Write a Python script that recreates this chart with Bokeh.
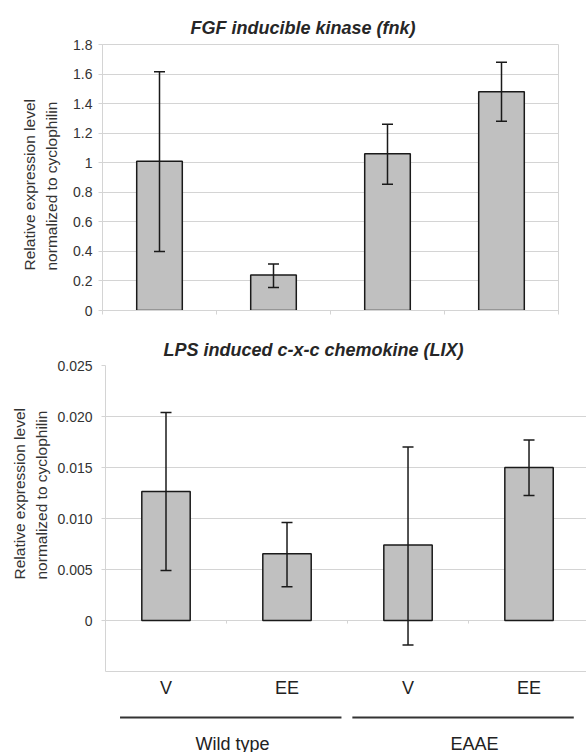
from bokeh.plotting import figure
from bokeh.models import (ColumnDataSource, Whisker, TeeHead, Range1d, FixedTicker,
                          CustomJSTickFormatter, Title)
from bokeh.layouts import column
from bokeh.embed import file_html
from bokeh.resources import INLINE
from bokeh.core.properties import value

# ---------------- data ----------------
conditions = ["V", "EE", "V", "EE"]
groups = ["Wild type", "EAAE"]

fnk_mean = [1.01, 0.24, 1.06, 1.48]
fnk_lower = [0.40, 0.155, 0.855, 1.28]
fnk_upper = [1.615, 0.315, 1.26, 1.68]

lix_mean = [0.01265, 0.00655, 0.0074, 0.0150]
lix_lower = [0.0049, 0.0033, -0.0024, 0.01225]
lix_upper = [0.0204, 0.0096, 0.0170, 0.0177]

fnk_ticks = [0, 0.2, 0.4, 0.6, 0.8, 1.0, 1.2, 1.4, 1.6, 1.8]
lix_ticks = [0, 0.005, 0.010, 0.015, 0.020, 0.025]

title_fnk = "FGF inducible kinase (fnk)"
title_lix = "LPS induced c-x-c chemokine (LIX)"
ylabel = "Relative expression level\nnormalized to cyclophilin"

# ---------------- styles ----------------
FONT = "Liberation Sans"
GRID = "#d4d4d4"
BAR_FILL = "#c0c0c0"
INK = "#1a1a1a"
TXT = "#333333"

xs = [i + 0.5 for i in range(len(conditions))]
bounds = list(range(len(conditions) + 1))


def style_title(p, text, offset, standoff):
    p.title.text = text
    p.title.align = "left"
    p.title.offset = offset
    p.title.text_font = FONT
    p.title.text_font_style = "bold italic"
    p.title.text_font_size = "18px"
    p.title.text_color = "#262626"
    p.title.standoff = standoff


def add_ylabel(p, offset, standoff):
    t = Title(text=ylabel, align="left", offset=offset, standoff=standoff,
              text_font=FONT, text_font_style="normal", text_font_size="15.5px",
              text_color=TXT, text_line_height=1.3)
    p.add_layout(t, "left")


def style_yaxis(ax, ticks, code, standoff):
    ax.ticker = FixedTicker(ticks=ticks)
    ax.formatter = CustomJSTickFormatter(code=code)
    ax.axis_line_color = GRID
    ax.major_tick_line_color = GRID
    ax.major_tick_out = 4
    ax.major_tick_in = 0
    ax.minor_tick_line_color = None
    ax.major_label_standoff = standoff
    ax.major_label_text_font = FONT
    ax.major_label_text_font_size = "14px"
    ax.major_label_text_color = TXT


def add_bars(p, mean, lower, upper):
    src = ColumnDataSource(dict(x=xs, mean=mean, lower=lower, upper=upper))
    p.vbar(x="x", top="mean", bottom=0, width=0.4, source=src,
           fill_color=BAR_FILL, line_color=INK, line_width=1.5)
    w = Whisker(source=src, base="x", upper="upper", lower="lower",
                line_color=INK, line_width=1.5, level="annotation",
                upper_head=TeeHead(size=11, line_color=INK, line_width=1.5),
                lower_head=TeeHead(size=11, line_color=INK, line_width=1.5))
    p.add_layout(w)


# ---------------- top chart (fnk) ----------------
p1 = figure(width=586, height=320, x_range=Range1d(0, 4), y_range=Range1d(0, 1.8),
            output_backend="svg", toolbar_location=None, frame_align=False,
            min_border_left=102, min_border_right=28, min_border_top=44, min_border_bottom=10)
style_title(p1, title_fnk, 88, 13)
style_yaxis(p1.yaxis[0], fnk_ticks,
            "return tick == 0 ? '0' : String(Math.round(tick*10)/10)", 6)
add_ylabel(p1, 40, 21)
xa = p1.xaxis[0]
xa.ticker = FixedTicker(ticks=bounds)
xa.formatter = CustomJSTickFormatter(code="return ''")
xa.major_label_text_font_size = "1px"
xa.major_label_standoff = 0
xa.axis_line_color = GRID
xa.major_tick_line_color = GRID
xa.major_tick_out = 4
xa.major_tick_in = 0
xa.minor_tick_line_color = None
p1.ygrid.ticker = FixedTicker(ticks=fnk_ticks)
p1.ygrid.grid_line_color = GRID
p1.xgrid.visible = False
p1.outline_line_color = GRID
add_bars(p1, fnk_mean, fnk_lower, fnk_upper)

# ---------------- bottom chart (LIX) ----------------
p2 = figure(width=586, height=387, x_range=Range1d(0, 3.975), y_range=Range1d(-0.005, 0.025),
            output_backend="svg", toolbar_location=None, frame_align=False,
            min_border_left=105, min_border_right=0, min_border_top=45, min_border_bottom=36)
style_title(p2, title_lix, 58, 12)
style_yaxis(p2.yaxis[0], lix_ticks,
            "return tick == 0 ? '0' : tick.toFixed(3)", 9)
add_ylabel(p2, 92, 8)
xb = p2.xaxis[0]
xb.ticker = FixedTicker(ticks=xs)
xb.formatter = CustomJSTickFormatter(args=dict(labels=conditions),
                                     code="return labels[Math.floor(tick)]")
xb.axis_line_color = GRID
xb.major_tick_line_color = None
xb.minor_tick_line_color = None
xb.major_tick_out = 0
xb.major_tick_in = 0
xb.major_label_standoff = 6
xb.major_label_text_font = FONT
xb.major_label_text_font_size = "18px"
xb.major_label_text_color = "#222222"
p2.ygrid.ticker = FixedTicker(ticks=lix_ticks)
p2.ygrid.grid_line_color = GRID
p2.xgrid.visible = False
p2.outline_line_color = None
p2.segment(x0=bounds, y0=[0] * len(bounds), x1=bounds, y1=[-0.0003] * len(bounds),
           line_color=GRID, line_width=1)
add_bars(p2, lix_mean, lix_lower, lix_upper)

# ---------------- group annotation strip ----------------
p3 = figure(width=586, height=45, x_range=p2.x_range, y_range=Range1d(45, 0),
            output_backend="svg", toolbar_location=None, frame_align=False,
            x_axis_location=None, y_axis_location=None,
            min_border_left=105, min_border_right=0, min_border_top=0, min_border_bottom=0)
p3.title.visible = False
p3.grid.visible = False
p3.outline_line_color = None
n_per = len(conditions) // len(groups)
LINE_INSET = [(0.12, 0.05), (0.04, 0.13)]
gx0 = [g * n_per + LINE_INSET[g][0] for g in range(len(groups))]
gx1 = [(g + 1) * n_per - LINE_INSET[g][1] for g in range(len(groups))]
p3.segment(x0=gx0, y0=[10] * len(groups), x1=gx1, y1=[10] * len(groups),
           line_color="#333333", line_width=2)
p3.text(x=[g * n_per + 1.05 for g in range(len(groups))], y=[36] * len(groups),
        text=groups, text_align="center", text_baseline="middle",
        text_font=value(FONT), text_font_size="18px", text_color="#222222")

layout = column(p1, p2, p3, spacing=0)
open("out.html", "w").write(file_html(layout, INLINE))
